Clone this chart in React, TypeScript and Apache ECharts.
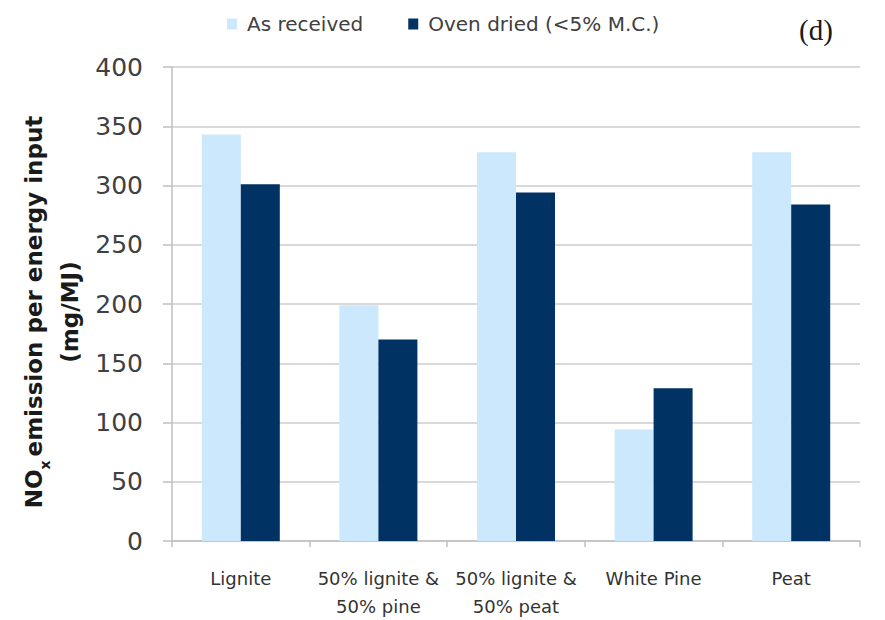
import React, { useEffect, useRef } from "react";
import * as echarts from "echarts";

const categories = [
  "Lignite",
  "50% lignite &\n50% pine",
  "50% lignite &\n50% peat",
  "White Pine",
  "Peat",
];
const seriesNames = ["As received", "Oven dried (<5% M.C.)"];
const asReceived = [343, 199, 328, 94, 328];
const ovenDried = [301, 170, 294, 129, 284];
const yTicks = { min: 0, max: 400, interval: 50 };

const LIGHT = "#cbe8fc";
const DARK = "#003263";
const FONT = "DejaVu Sans";

export default function App() {
  const ref = useRef<HTMLDivElement>(null);
  useEffect(() => {
    if (!ref.current) return;
    const chart = echarts.init(ref.current, null, { renderer: "svg" });
    chart.setOption({
      animation: false,
      backgroundColor: "#ffffff",
      textStyle: { fontFamily: FONT },
      legend: {
        left: 222,
        top: 9,
        itemWidth: 10,
        itemHeight: 11,
        itemGap: 45,
        icon: "rect",
        data: seriesNames,
        textStyle: {
          fontFamily: FONT,
          fontSize: 20,
          color: "#404040",
          padding: [0, 0, 0, 5],
        },
      },
      grid: { left: 172, right: 25, top: 67, bottom: 73, containLabel: false },
      xAxis: {
        type: "category",
        data: categories,
        axisLine: { show: true, lineStyle: { color: "#bfbfbf", width: 1.5 } },
        axisTick: {
          show: true,
          interval: 0,
          alignWithLabel: false,
          length: 6,
          lineStyle: { color: "#bfbfbf", width: 1.5 },
        },
        axisLabel: {
          interval: 0,
          margin: 23,
          fontFamily: FONT,
          fontSize: 18,
          lineHeight: 28,
          color: "#333333",
        },
      },
      yAxis: {
        type: "value",
        min: yTicks.min,
        max: yTicks.max,
        interval: yTicks.interval,
        axisLine: { show: true, lineStyle: { color: "#bfbfbf", width: 1.5 } },
        axisTick: {
          show: true,
          length: 9,
          inside: false,
          lineStyle: { color: "#bfbfbf", width: 1.5 },
        },
        splitLine: { show: true, lineStyle: { color: "#d9d9d9", width: 2 } },
        axisLabel: {
          margin: 29,
          fontFamily: FONT,
          fontSize: 25,
          color: "#404040",
        },
      },
      series: [
        {
          name: seriesNames[0],
          type: "bar",
          data: asReceived,
          barWidth: 39,
          barGap: "0%",
          itemStyle: { color: LIGHT },
        },
        {
          name: seriesNames[1],
          type: "bar",
          data: ovenDried,
          barWidth: 39,
          barGap: "0%",
          itemStyle: { color: DARK },
        },
      ],
      graphic: [
        {
          type: "text",
          x: 52,
          y: 312,
          rotation: Math.PI / 2,
          style: {
            text: "{b|NO}{s|x}{b|emission per energy input}\n{b|(mg/MJ)}",
            align: "center",
            verticalAlign: "middle",
            lineHeight: 36,
            rich: {
              b: {
                fontFamily: FONT,
                fontWeight: "bold",
                fontSize: 23,
                fill: "#1a1a1a",
                lineHeight: 36,
              },
              s: {
                fontFamily: FONT,
                fontWeight: "bold",
                fontSize: 14,
                fill: "#1a1a1a",
                verticalAlign: "bottom",
                lineHeight: 36,
                padding: [0, 4, 0, 0],
              },
            },
          },
        },
        {
          type: "text",
          x: 816,
          y: 30,
          style: {
            text: "(d)",
            align: "center",
            verticalAlign: "middle",
            fontFamily: "Liberation Serif",
            fontSize: 29,
            fill: "#1a1a1a",
          },
        },
      ],
    });
    return () => chart.dispose();
  }, []);
  return (
    <div
      ref={ref}
      style={{ position: "absolute", left: 0, top: 0, width: 885, height: 620 }}
    />
  );
}
